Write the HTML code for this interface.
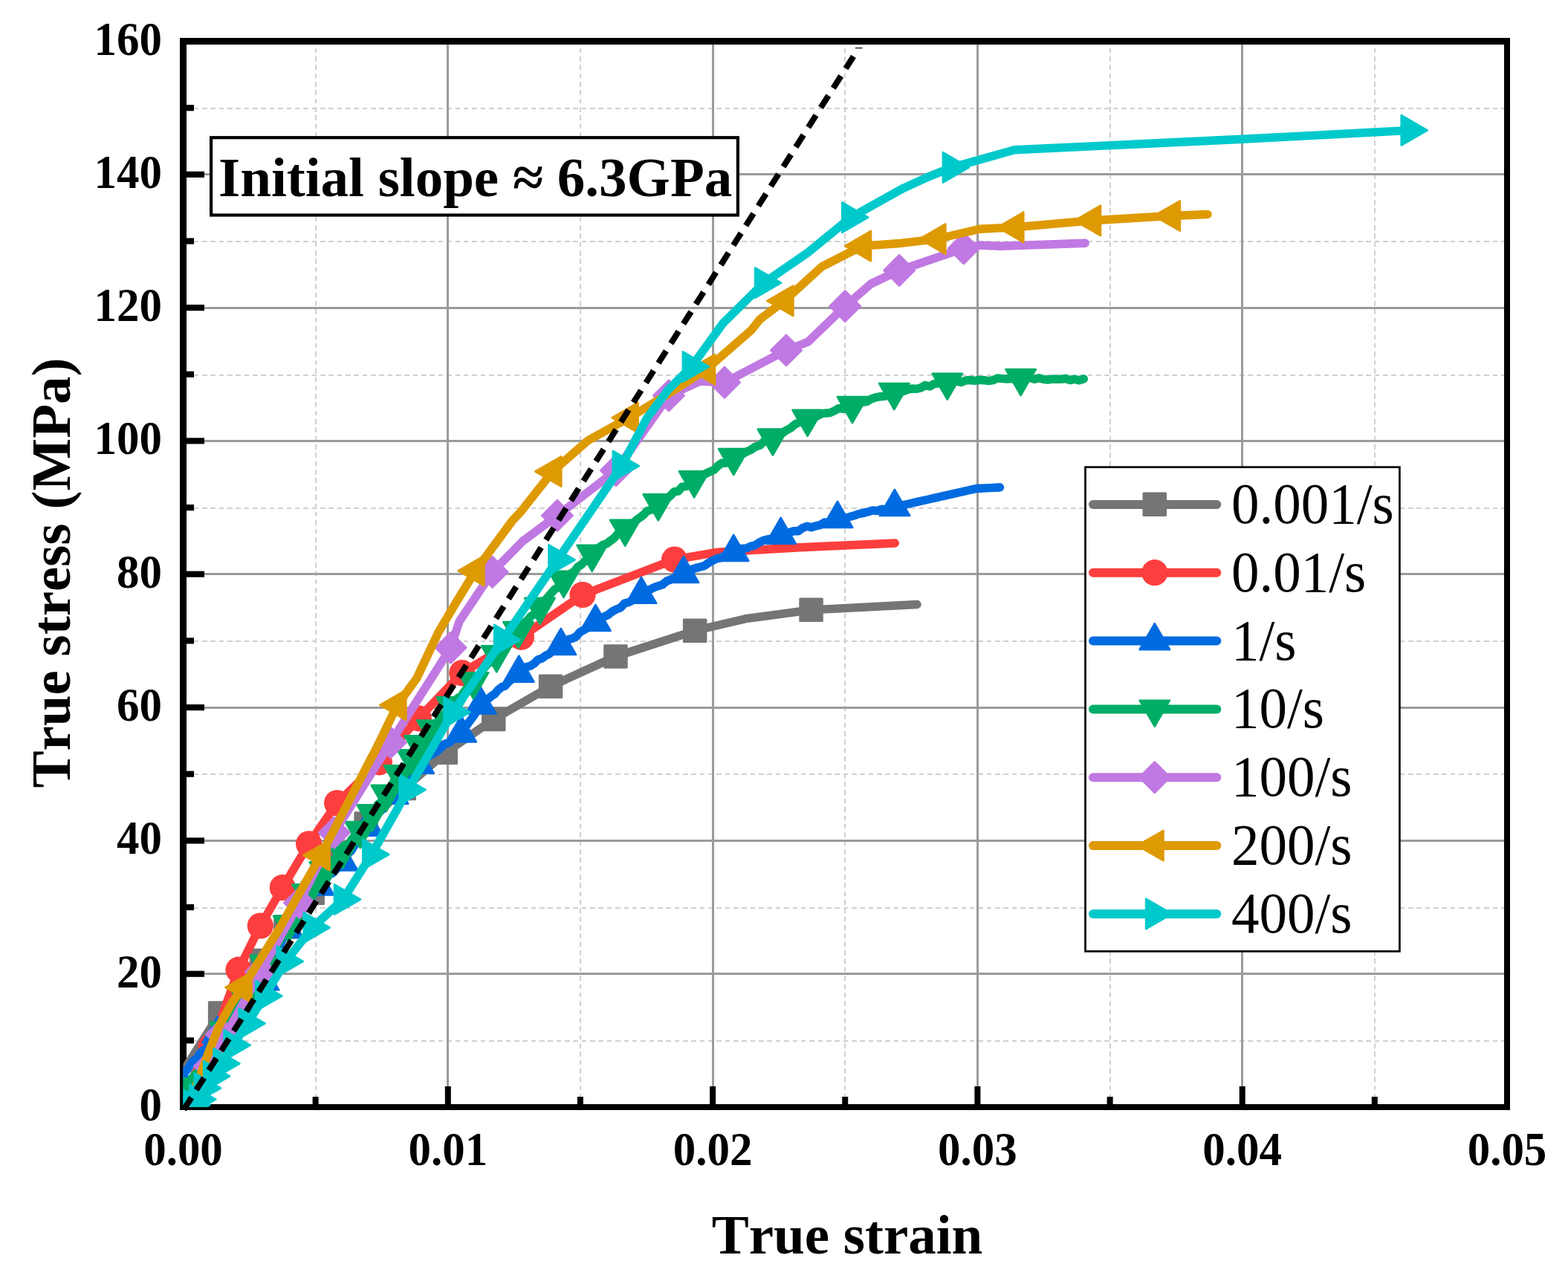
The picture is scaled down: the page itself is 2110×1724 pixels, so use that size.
<!DOCTYPE html>
<html lang="en"><head><meta charset="utf-8"><title>True stress vs true strain</title>
<style>
html,body{margin:0;padding:0;background:#fff;}
body{width:2110px;height:1724px;overflow:hidden;}
svg{display:block;}
text{font-family:"Liberation Serif","Times New Roman",serif;fill:#000;font-kerning:none;}
.b{font-weight:bold;}
.tk{font-weight:bold;font-size:61px;}
.ti{font-weight:bold;font-size:75px;}
.lg{font-size:75px;}
</style></head><body>
<svg width="2110" height="1724" viewBox="0 0 2110 1724">
<rect width="2110" height="1724" fill="#fff"/>
<defs><clipPath id="cp"><rect x="246.5" y="55.5" width="1781.5" height="1434.5"/></clipPath></defs>

<g id="grid" shape-rendering="crispEdges"><line x1="424.6" y1="1490.0" x2="424.6" y2="55.5" stroke="#d0d0d0" stroke-width="2" stroke-dasharray="6.6 4.75"/>
<line x1="780.9" y1="1490.0" x2="780.9" y2="55.5" stroke="#d0d0d0" stroke-width="2" stroke-dasharray="6.6 4.75"/>
<line x1="1137.2" y1="1490.0" x2="1137.2" y2="55.5" stroke="#d0d0d0" stroke-width="2" stroke-dasharray="6.6 4.75"/>
<line x1="1493.6" y1="1490.0" x2="1493.6" y2="55.5" stroke="#d0d0d0" stroke-width="2" stroke-dasharray="6.6 4.75"/>
<line x1="1849.8" y1="1490.0" x2="1849.8" y2="55.5" stroke="#d0d0d0" stroke-width="2" stroke-dasharray="6.6 4.75"/>
<line x1="249.3" y1="1401" x2="2028.0" y2="1401" stroke="#d0d0d0" stroke-width="2" stroke-dasharray="6.6 4.75"/>
<line x1="249.3" y1="1221.7" x2="2028.0" y2="1221.7" stroke="#d0d0d0" stroke-width="2" stroke-dasharray="6.6 4.75"/>
<line x1="249.3" y1="1042.4" x2="2028.0" y2="1042.4" stroke="#d0d0d0" stroke-width="2" stroke-dasharray="6.6 4.75"/>
<line x1="249.3" y1="863.1" x2="2028.0" y2="863.1" stroke="#d0d0d0" stroke-width="2" stroke-dasharray="6.6 4.75"/>
<line x1="249.3" y1="683.8" x2="2028.0" y2="683.8" stroke="#d0d0d0" stroke-width="2" stroke-dasharray="6.6 4.75"/>
<line x1="249.3" y1="504.5" x2="2028.0" y2="504.5" stroke="#d0d0d0" stroke-width="2" stroke-dasharray="6.6 4.75"/>
<line x1="249.3" y1="325.2" x2="2028.0" y2="325.2" stroke="#d0d0d0" stroke-width="2" stroke-dasharray="6.6 4.75"/>
<line x1="249.3" y1="145.9" x2="2028.0" y2="145.9" stroke="#d0d0d0" stroke-width="2" stroke-dasharray="6.6 4.75"/>
<line x1="602.8" y1="55.5" x2="602.8" y2="1490.0" stroke="#9b9b9b" stroke-width="2.9"/>
<line x1="959.1" y1="55.5" x2="959.1" y2="1490.0" stroke="#9b9b9b" stroke-width="2.9"/>
<line x1="1315.4" y1="55.5" x2="1315.4" y2="1490.0" stroke="#9b9b9b" stroke-width="2.9"/>
<line x1="1671.7" y1="55.5" x2="1671.7" y2="1490.0" stroke="#9b9b9b" stroke-width="2.9"/>
<line x1="246.5" y1="1310.7" x2="2028.0" y2="1310.7" stroke="#9b9b9b" stroke-width="2.9"/>
<line x1="246.5" y1="1131.4" x2="2028.0" y2="1131.4" stroke="#9b9b9b" stroke-width="2.9"/>
<line x1="246.5" y1="952.1" x2="2028.0" y2="952.1" stroke="#9b9b9b" stroke-width="2.9"/>
<line x1="246.5" y1="772.8" x2="2028.0" y2="772.8" stroke="#9b9b9b" stroke-width="2.9"/>
<line x1="246.5" y1="593.4" x2="2028.0" y2="593.4" stroke="#9b9b9b" stroke-width="2.9"/>
<line x1="246.5" y1="414.1" x2="2028.0" y2="414.1" stroke="#9b9b9b" stroke-width="2.9"/>
<line x1="246.5" y1="234.8" x2="2028.0" y2="234.8" stroke="#9b9b9b" stroke-width="2.9"/></g>
<g id="axes" fill="#000"><rect x="242" y="51" width="9" height="1443"/>
<rect x="242" y="51" width="1790" height="9"/>
<rect x="2024" y="51" width="8" height="1443"/>
<rect x="242" y="1486" width="1790" height="8"/>
<rect x="420.6" y="1476" width="8" height="11"/>
<rect x="598.8" y="1462" width="8" height="25"/>
<rect x="776.9" y="1476" width="8" height="11"/>
<rect x="955.1" y="1462" width="8" height="25"/>
<rect x="1133.2" y="1476" width="8" height="11"/>
<rect x="1311.4" y="1462" width="8" height="25"/>
<rect x="1489.6" y="1476" width="8" height="11"/>
<rect x="1667.7" y="1462" width="8" height="25"/>
<rect x="1845.8" y="1476" width="8" height="11"/>
<rect x="250" y="1396.2" width="11" height="8.2"/>
<rect x="250" y="1306.6" width="25" height="8.2"/>
<rect x="250" y="1216.9" width="11" height="8.2"/>
<rect x="250" y="1127.3" width="25" height="8.2"/>
<rect x="250" y="1037.6" width="11" height="8.2"/>
<rect x="250" y="948" width="25" height="8.2"/>
<rect x="250" y="858.3" width="11" height="8.2"/>
<rect x="250" y="768.6" width="25" height="8.2"/>
<rect x="250" y="679" width="11" height="8.2"/>
<rect x="250" y="589.3" width="25" height="8.2"/>
<rect x="250" y="499.7" width="11" height="8.2"/>
<rect x="250" y="410" width="25" height="8.2"/>
<rect x="250" y="320.4" width="11" height="8.2"/>
<rect x="250" y="230.7" width="25" height="8.2"/>
<rect x="250" y="141.1" width="11" height="8.2"/></g>
<g id="curves" clip-path="url(#cp)"><g id="s-gray"><polyline points="240,1452 296.2,1363.4 352,1292.7 384.5,1247.4 420.6,1201.8 456,1153 492.6,1108.5 543.8,1061.1 599.7,1012.7 664.3,968 700,947.4 741,923.7 828.5,883.5 935.1,848.8 1003.3,832.7 1091.6,820.9 1234,813.5" fill="none" stroke="#757575" stroke-width="11.4" stroke-linejoin="round" stroke-linecap="round"/>
<rect x="279.9" y="1347.2" width="32.5" height="32.5" rx="1.5" fill="#757575"/>
<rect x="335.8" y="1276.5" width="32.5" height="32.5" rx="1.5" fill="#757575"/>
<rect x="368.2" y="1231.2" width="32.5" height="32.5" rx="1.5" fill="#757575"/>
<rect x="404.4" y="1185.5" width="32.5" height="32.5" rx="1.5" fill="#757575"/>
<rect x="439.8" y="1136.8" width="32.5" height="32.5" rx="1.5" fill="#757575"/>
<rect x="476.4" y="1092.2" width="32.5" height="32.5" rx="1.5" fill="#757575"/>
<rect x="527.5" y="1044.8" width="32.5" height="32.5" rx="1.5" fill="#757575"/>
<rect x="583.5" y="996.5" width="32.5" height="32.5" rx="1.5" fill="#757575"/>
<rect x="648" y="951.8" width="32.5" height="32.5" rx="1.5" fill="#757575"/>
<rect x="724.8" y="907.5" width="32.5" height="32.5" rx="1.5" fill="#757575"/>
<rect x="812.2" y="867.2" width="32.5" height="32.5" rx="1.5" fill="#757575"/>
<rect x="918.9" y="832.5" width="32.5" height="32.5" rx="1.5" fill="#757575"/>
<rect x="1075.3" y="804.6" width="32.5" height="32.5" rx="1.5" fill="#757575"/>
</g>
<g id="s-red"><polyline points="262,1446 284,1408.5 321,1305.2 350.3,1246 380.3,1194.5 415.6,1135.8 453.6,1080.8 510.4,1025.8 563.3,966.8 621.8,905.7 701.4,857.3 784,800.5 907.6,753.1 965.4,743.2 1075.8,736.7 1204.3,731" fill="none" stroke="#FD3E3E" stroke-width="11.4" stroke-linejoin="round" stroke-linecap="round"/>
<circle cx="284" cy="1408.5" r="17.6" fill="#FD3E3E"/>
<circle cx="321" cy="1305.2" r="17.6" fill="#FD3E3E"/>
<circle cx="350.3" cy="1246" r="17.6" fill="#FD3E3E"/>
<circle cx="380.3" cy="1194.5" r="17.6" fill="#FD3E3E"/>
<circle cx="415.6" cy="1135.8" r="17.6" fill="#FD3E3E"/>
<circle cx="453.6" cy="1080.8" r="17.6" fill="#FD3E3E"/>
<circle cx="510.4" cy="1025.8" r="17.6" fill="#FD3E3E"/>
<circle cx="563.3" cy="966.8" r="17.6" fill="#FD3E3E"/>
<circle cx="621.8" cy="905.7" r="17.6" fill="#FD3E3E"/>
<circle cx="701.4" cy="857.3" r="17.6" fill="#FD3E3E"/>
<circle cx="784" cy="800.5" r="17.6" fill="#FD3E3E"/>
<circle cx="907.6" cy="753.1" r="17.6" fill="#FD3E3E"/>
</g>
<g id="s-blue"><polyline points="236,1468 238.5,1459.1 241,1452.2 245,1446.9 248.9,1443 252.9,1438.5 256.9,1431.9 260.8,1427.1 264.8,1425.2 268.8,1418.6 272.8,1413.9 276.7,1411.8 280.7,1405.4 284.7,1402 288.6,1396.1 292.6,1392 296.3,1385.1 300,1381.6 303.6,1377.2 307.3,1370.8 311,1366.4 314.6,1361 318.3,1353.7 322,1350.9 326.7,1346.1 331.5,1340.9 336.2,1335.8 340.9,1334.4 345.6,1328.9 350.4,1325.5 355.1,1321.9 357.8,1315.4 360.5,1310.3 363.2,1302.6 365.8,1298.1 368.5,1291 371.2,1286.8 373.9,1280.7 376.6,1272.2 379.2,1266.4 381.9,1260.8 384.6,1257.5 387.3,1249.8 391.1,1245.2 394.9,1238.9 398.6,1234.4 402.4,1228.8 406.2,1223.5 410,1219.1 413.8,1213.9 417.6,1209.8 421.3,1203.8 425.1,1199.5 428.9,1194 433.5,1189.7 438.1,1183.9 442.7,1177.5 447.3,1175.1 451.9,1170.7 456.5,1165.8 461.1,1159.9 464.9,1155.2 468.6,1148.3 472.4,1145.3 476.2,1139.2 479.9,1133 483.7,1127.1 487.5,1124.6 491.2,1119.9 495,1111.6 498.8,1109.2 502.6,1103.1 506.3,1097.5 510.1,1093.2 513.9,1090 517.7,1085.6 521.4,1078 525.2,1075.2 529,1068.5 533.3,1065.6 537.6,1059.2 541.9,1055.9 546.2,1051.1 550.6,1044.3 554.9,1040.9 559.2,1033.4 563.5,1027.5 568.7,1025.4 573.9,1019.7 579.1,1016.4 584.3,1013.3 589.5,1010.1 594.6,1004.8 599.8,1000.6 605,999.5 610.2,993.8 615.4,992.2 620.6,988.1 624.4,981 628.2,975.8 632,970.6 635.8,965.6 639.6,960 643.4,954.4 647.2,949.2 651.8,946.4 656.5,941 661.1,936.9 665.8,933.9 670.4,928.4 675.1,924.7 679.7,923.1 684.4,917.7 689,913.9 693.7,908.1 698.3,905.6 703.4,902.8 708.6,897.6 713.7,896.3 718.8,893 724,887.7 729.1,886.3 734.3,882.4 739.4,879.8 744.5,875.4 749.7,873.2 754.8,870 760,864 765.2,860.6 770.3,859.2 775.5,856.6 780.7,850.6 785.9,847.8 791,844.7 796.2,840.2 801.4,836.8 807,833.3 812.6,830.1 818.2,827.5 823.8,823.1 829.4,820 835,817.9 840.6,812 846.2,810.5 851.8,807.7 857.4,802.8 863,799.2 868.7,798.3 874.4,793.6 880.1,790.7 885.8,788.7 891.5,786.8 897.1,782 902.8,780 908.5,777.2 914.2,776.1 919.9,772 925.5,771 931.1,766.2 936.7,764.4 942.3,763 947.9,761.4 953.5,757.5 959.2,754.3 964.8,751.6 970.4,750.6 976,747 981.6,746.7 987.2,744.4 993,740 998.7,738.2 1004.5,737.9 1010.3,735.3 1016.1,733.7 1021.8,730.1 1027.6,727.2 1033.4,725.7 1039.2,725.3 1044.9,721.4 1050.7,719.6 1056.6,718.1 1062.4,716.5 1068.3,714.7 1074.2,714.8 1080,710.5 1085.9,708.3 1091.8,709.8 1097.7,707.9 1103.5,706.6 1109.4,703 1115.3,703.1 1121.1,701.3 1127,697.3 1132.9,697.8 1138.8,696.9 1144.7,695.1 1150.7,693.4 1156.6,691.4 1162.5,690.3 1168.4,688.7 1174.3,686.9 1180.2,687.5 1186.2,685.2 1192.1,685.8 1198,682 1203.9,683.7 1210,680.9 1216.1,679.5 1222.2,678.2 1228.4,676.8 1234.5,675.4 1240.6,674 1246.7,672.7 1252.8,671.3 1259,669.9 1265.1,668.5 1271.2,667.1 1277.3,665.8 1283.4,664.4 1289.5,663 1295.7,661.6 1301.8,660.3 1307.9,658.9 1314,657.5 1320.3,657.2 1326.6,656.9 1332.9,656.6 1339.2,656.3 1345.5,656" fill="none" stroke="#006BE0" stroke-width="11.4" stroke-linejoin="round" stroke-linecap="round"/>
<polygon points="241,1428.7 261.2,1463.7 220.8,1463.7" fill="#006BE0" stroke="#006BE0" stroke-width="2.6" stroke-linejoin="round"/>
<polygon points="292.6,1368.2 312.8,1403.2 272.4,1403.2" fill="#006BE0" stroke="#006BE0" stroke-width="2.6" stroke-linejoin="round"/>
<polygon points="322,1326.7 342.2,1361.7 301.8,1361.7" fill="#006BE0" stroke="#006BE0" stroke-width="2.6" stroke-linejoin="round"/>
<polygon points="355.1,1297.3 375.3,1332.3 334.9,1332.3" fill="#006BE0" stroke="#006BE0" stroke-width="2.6" stroke-linejoin="round"/>
<polygon points="387.3,1226.7 407.5,1261.7 367.1,1261.7" fill="#006BE0" stroke="#006BE0" stroke-width="2.6" stroke-linejoin="round"/>
<polygon points="428.9,1169.5 449.1,1204.5 408.7,1204.5" fill="#006BE0" stroke="#006BE0" stroke-width="2.6" stroke-linejoin="round"/>
<polygon points="461.1,1136.4 481.3,1171.4 440.9,1171.4" fill="#006BE0" stroke="#006BE0" stroke-width="2.6" stroke-linejoin="round"/>
<polygon points="495,1089.7 515.2,1124.7 474.8,1124.7" fill="#006BE0" stroke="#006BE0" stroke-width="2.6" stroke-linejoin="round"/>
<polygon points="529,1046.7 549.2,1081.7 508.8,1081.7" fill="#006BE0" stroke="#006BE0" stroke-width="2.6" stroke-linejoin="round"/>
<polygon points="563.5,1005.6 583.7,1040.6 543.3,1040.6" fill="#006BE0" stroke="#006BE0" stroke-width="2.6" stroke-linejoin="round"/>
<polygon points="620.6,963.5 640.8,998.5 600.4,998.5" fill="#006BE0" stroke="#006BE0" stroke-width="2.6" stroke-linejoin="round"/>
<polygon points="647.2,925.5 667.4,960.5 627,960.5" fill="#006BE0" stroke="#006BE0" stroke-width="2.6" stroke-linejoin="round"/>
<polygon points="698.3,882.6 718.5,917.6 678.1,917.6" fill="#006BE0" stroke="#006BE0" stroke-width="2.6" stroke-linejoin="round"/>
<polygon points="754.8,845.9 775,880.9 734.6,880.9" fill="#006BE0" stroke="#006BE0" stroke-width="2.6" stroke-linejoin="round"/>
<polygon points="801.4,814 821.6,849 781.2,849" fill="#006BE0" stroke="#006BE0" stroke-width="2.6" stroke-linejoin="round"/>
<polygon points="863,776.8 883.2,811.8 842.8,811.8" fill="#006BE0" stroke="#006BE0" stroke-width="2.6" stroke-linejoin="round"/>
<polygon points="919.9,748.9 940.1,783.9 899.7,783.9" fill="#006BE0" stroke="#006BE0" stroke-width="2.6" stroke-linejoin="round"/>
<polygon points="987.2,719.9 1007.4,754.9 967,754.9" fill="#006BE0" stroke="#006BE0" stroke-width="2.6" stroke-linejoin="round"/>
<polygon points="1050.7,696.8 1070.9,731.8 1030.5,731.8" fill="#006BE0" stroke="#006BE0" stroke-width="2.6" stroke-linejoin="round"/>
<polygon points="1127,674.9 1147.2,709.9 1106.8,709.9" fill="#006BE0" stroke="#006BE0" stroke-width="2.6" stroke-linejoin="round"/>
<polygon points="1203.9,659 1224.1,694 1183.7,694" fill="#006BE0" stroke="#006BE0" stroke-width="2.6" stroke-linejoin="round"/>
</g>
<g id="s-green"><polyline points="240,1478 243.7,1472.1 247.3,1466.7 251,1462.6 254.7,1456.5 258.4,1451 262.1,1446.8 265.9,1443.3 269.6,1437.6 273.3,1432.2 277,1425.1 280.7,1420.7 284.4,1414.3 288.1,1408.5 291.9,1402.8 295.6,1397.7 299.3,1394.6 303,1388.8 306.4,1383 309.8,1377.3 313.1,1369.5 316.5,1364.2 319.9,1359.6 323.2,1354.2 326.6,1348.9 330,1343.3 333.4,1335 336.8,1331.3 340.1,1325.9 343.5,1319.8 346.9,1313.2 350.2,1308.6 353.6,1301.8 357,1299.1 360.1,1293.5 363.3,1287.1 366.4,1281 369.5,1277.8 372.6,1271.3 375.8,1267 378.9,1261.6 382,1255.1 385.2,1249.5 388.3,1244.8 391.5,1239 394.6,1232.7 397.8,1227.9 401,1224.4 404.2,1216.4 407.4,1211.2 410.5,1207.8 413.7,1201.4 417.6,1197.2 421.5,1192 425.4,1186.5 429.2,1183.7 433.1,1176 437,1171.7 441,1166.5 445,1163.5 449,1157.7 453,1153.5 457,1150.3 461,1144.4 465,1140.7 468.9,1137.3 472.9,1130 476.9,1125.4 480.8,1121.4 484.8,1118.7 488.8,1112.5 492.9,1105.5 496.9,1100.1 500.9,1093.9 504.7,1089.6 508.5,1082.8 512.3,1079.8 516.1,1075.1 519.9,1070 523.3,1064 526.7,1059.4 530.2,1050.9 533.6,1046.5 537,1043.5 541.5,1037.6 546,1031.2 550.5,1027.8 555,1021.5 558.2,1015.8 561.3,1007.7 564.5,1001.1 568.8,996.7 573,990.5 577.2,986.1 581.5,982.9 585.9,975.5 590.3,969.2 594.8,964.1 599.2,959.3 603.6,956.2 608,949.5 612.1,944.6 616.3,939.2 620.4,937.5 624.6,930.9 628.7,925.4 632.9,920.2 637,915.5 641.5,910.7 645.9,907.3 650.4,900.4 654.8,894.9 659.3,891.3 663.7,885.3 668.2,882.7 672.4,875.1 676.6,871.9 680.8,868.1 685,862.3 689.2,859.7 693.4,853.3 697.6,847.9 701.7,843.9 705.9,838 710,834.7 714.1,829.5 718.2,827.1 722.4,822.3 726.5,816.6 730.5,810.5 734.5,806.8 738.5,802.2 742.5,797.6 746.5,793.2 750.5,790.9 754.5,783.9 758.5,779.1 763.3,777.7 768,772 772.8,769.1 777.6,762.7 782.4,760 787.2,754.8 791.9,750.9 796.7,746.3 801.6,741.7 806.6,736.5 811.5,733.2 816.5,731.6 821.4,727.9 826.4,724.2 831.3,718.4 836.3,715.7 841.2,712.4 846.2,708.1 851.1,704.8 856.1,700 861,696.6 866,692.9 870.9,687.7 875.9,686.1 880.8,682.4 885.8,675.6 891.2,675.2 896.5,671.7 901.9,667.3 907.3,661.7 912.6,661.2 918,655.1 923.4,654.6 928.7,650.1 934.1,644.6 939.4,641.9 944.7,640.5 950,637.2 955.3,634.8 960.7,632.4 966,627 971.3,623.2 976.6,623.3 981.9,617.2 987.2,617.1 993.1,611.5 998.9,610.9 1004.8,607.9 1010.6,605.3 1016.5,601.2 1022.3,599.4 1028.2,594.1 1034,592.7 1039.9,588.6 1045.8,587.3 1051.6,583.7 1057.5,579.5 1063.3,576.5 1069.2,571.6 1075,568.4 1080.9,567.1 1086.7,563.6 1092.7,563.1 1098.8,560.4 1104.8,557 1110.8,556 1116.8,555.6 1122.9,552.9 1128.9,549.4 1134.9,550.4 1141,548.6 1147,544.3 1153.3,543.8 1159.5,541.3 1165.8,540.7 1172,537.1 1178.3,534.8 1184.5,533.7 1190.8,533.3 1197,528.3 1203.3,526.4 1209.3,527 1215.2,526.8 1221.2,524.4 1227.1,523 1233.1,523.4 1239,522 1245,518.5 1251,520.1 1256.9,516.7 1262.9,515.9 1268.8,516.7 1274.8,514.1 1281,515.1 1287.1,512.6 1293.3,514.6 1299.5,511.9 1305.7,511.5 1311.8,512.3 1318,511.4 1324.2,511.7 1330.4,512.6 1336.5,511.6 1342.7,508.9 1348.9,509.6 1355.1,510 1361.2,509.5 1367.4,509.9 1373.6,508.7 1379.6,507.5 1385.7,508.2 1391.8,510.4 1397.8,508.8 1403.8,510.3 1409.9,511.2 1415.9,510.1 1422,510.4 1428,510.3 1434.1,509.5 1440.1,511.6 1446.2,510.2 1452.2,511.9 1458.3,509.9" fill="none" stroke="#00AD66" stroke-width="11.4" stroke-linejoin="round" stroke-linecap="round"/>
<polygon points="251,1486.3 271.2,1451.3 230.8,1451.3" fill="#00AD66" stroke="#00AD66" stroke-width="2.6" stroke-linejoin="round"/>
<polygon points="303,1411 323.2,1376 282.8,1376" fill="#00AD66" stroke="#00AD66" stroke-width="2.6" stroke-linejoin="round"/>
<polygon points="330,1365.3 350.2,1330.3 309.8,1330.3" fill="#00AD66" stroke="#00AD66" stroke-width="2.6" stroke-linejoin="round"/>
<polygon points="357,1320.9 377.2,1285.9 336.8,1285.9" fill="#00AD66" stroke="#00AD66" stroke-width="2.6" stroke-linejoin="round"/>
<polygon points="388.3,1267.8 408.5,1232.8 368.1,1232.8" fill="#00AD66" stroke="#00AD66" stroke-width="2.6" stroke-linejoin="round"/>
<polygon points="413.7,1225.4 433.9,1190.4 393.5,1190.4" fill="#00AD66" stroke="#00AD66" stroke-width="2.6" stroke-linejoin="round"/>
<polygon points="437,1195.3 457.2,1160.3 416.8,1160.3" fill="#00AD66" stroke="#00AD66" stroke-width="2.6" stroke-linejoin="round"/>
<polygon points="461,1168.3 481.2,1133.3 440.8,1133.3" fill="#00AD66" stroke="#00AD66" stroke-width="2.6" stroke-linejoin="round"/>
<polygon points="484.8,1141.1 505,1106.1 464.6,1106.1" fill="#00AD66" stroke="#00AD66" stroke-width="2.6" stroke-linejoin="round"/>
<polygon points="500.9,1118.3 521.1,1083.3 480.7,1083.3" fill="#00AD66" stroke="#00AD66" stroke-width="2.6" stroke-linejoin="round"/>
<polygon points="519.9,1091.8 540.1,1056.8 499.7,1056.8" fill="#00AD66" stroke="#00AD66" stroke-width="2.6" stroke-linejoin="round"/>
<polygon points="537,1065.2 557.2,1030.2 516.8,1030.2" fill="#00AD66" stroke="#00AD66" stroke-width="2.6" stroke-linejoin="round"/>
<polygon points="555,1044.4 575.2,1009.4 534.8,1009.4" fill="#00AD66" stroke="#00AD66" stroke-width="2.6" stroke-linejoin="round"/>
<polygon points="564.5,1025.4 584.7,990.4 544.3,990.4" fill="#00AD66" stroke="#00AD66" stroke-width="2.6" stroke-linejoin="round"/>
<polygon points="581.5,1004.6 601.7,969.6 561.3,969.6" fill="#00AD66" stroke="#00AD66" stroke-width="2.6" stroke-linejoin="round"/>
<polygon points="608,973.3 628.2,938.3 587.8,938.3" fill="#00AD66" stroke="#00AD66" stroke-width="2.6" stroke-linejoin="round"/>
<polygon points="637,940.3 657.2,905.3 616.8,905.3" fill="#00AD66" stroke="#00AD66" stroke-width="2.6" stroke-linejoin="round"/>
<polygon points="668.2,904.3 688.4,869.3 648,869.3" fill="#00AD66" stroke="#00AD66" stroke-width="2.6" stroke-linejoin="round"/>
<polygon points="697.6,872.1 717.8,837.1 677.4,837.1" fill="#00AD66" stroke="#00AD66" stroke-width="2.6" stroke-linejoin="round"/>
<polygon points="726.5,839.9 746.7,804.9 706.3,804.9" fill="#00AD66" stroke="#00AD66" stroke-width="2.6" stroke-linejoin="round"/>
<polygon points="758.5,803.9 778.7,768.9 738.3,768.9" fill="#00AD66" stroke="#00AD66" stroke-width="2.6" stroke-linejoin="round"/>
<polygon points="796.7,768.8 816.9,733.8 776.5,733.8" fill="#00AD66" stroke="#00AD66" stroke-width="2.6" stroke-linejoin="round"/>
<polygon points="841.2,734.7 861.4,699.7 821,699.7" fill="#00AD66" stroke="#00AD66" stroke-width="2.6" stroke-linejoin="round"/>
<polygon points="885.8,700.3 906,665.3 865.6,665.3" fill="#00AD66" stroke="#00AD66" stroke-width="2.6" stroke-linejoin="round"/>
<polygon points="934.1,669.4 954.3,634.4 913.9,634.4" fill="#00AD66" stroke="#00AD66" stroke-width="2.6" stroke-linejoin="round"/>
<polygon points="987.2,639.1 1007.4,604.1 967,604.1" fill="#00AD66" stroke="#00AD66" stroke-width="2.6" stroke-linejoin="round"/>
<polygon points="1039.9,612.5 1060.1,577.5 1019.7,577.5" fill="#00AD66" stroke="#00AD66" stroke-width="2.6" stroke-linejoin="round"/>
<polygon points="1086.7,586.9 1106.9,551.9 1066.5,551.9" fill="#00AD66" stroke="#00AD66" stroke-width="2.6" stroke-linejoin="round"/>
<polygon points="1147,569 1167.2,534 1126.8,534" fill="#00AD66" stroke="#00AD66" stroke-width="2.6" stroke-linejoin="round"/>
<polygon points="1203.3,551 1223.5,516 1183.1,516" fill="#00AD66" stroke="#00AD66" stroke-width="2.6" stroke-linejoin="round"/>
<polygon points="1274.8,537.7 1295,502.7 1254.6,502.7" fill="#00AD66" stroke="#00AD66" stroke-width="2.6" stroke-linejoin="round"/>
<polygon points="1373.6,532.1 1393.8,497.1 1353.4,497.1" fill="#00AD66" stroke="#00AD66" stroke-width="2.6" stroke-linejoin="round"/>
</g>
<g id="s-purple"><polyline points="274,1448 282,1435 297,1405 312,1378 345,1318 390,1238 412,1196 449.8,1120.6 525.6,999.3 606.6,871.6 618,836.5 662.6,769.8 703.3,728.4 749.9,693.9 828.9,633.2 900,532.4 942,513 975,514.7 1058,471.5 1087,460.3 1137.2,412.2 1172,382 1210.1,363.8 1296.8,334.4 1318,330 1346,331.3 1460.2,327.2" fill="none" stroke="#C079E2" stroke-width="11.4" stroke-linejoin="round" stroke-linecap="round"/>
<polygon points="282,1414.3 302.7,1435 282,1455.7 261.3,1435" fill="#C079E2" stroke="#C079E2" stroke-width="2.6" stroke-linejoin="round"/>
<polygon points="298,1371.3 318.7,1392 298,1412.7 277.3,1392" fill="#C079E2" stroke="#C079E2" stroke-width="2.6" stroke-linejoin="round"/>
<polygon points="351,1287.3 371.7,1308 351,1328.7 330.3,1308" fill="#C079E2" stroke="#C079E2" stroke-width="2.6" stroke-linejoin="round"/>
<polygon points="403,1194.3 423.7,1215 403,1235.7 382.3,1215" fill="#C079E2" stroke="#C079E2" stroke-width="2.6" stroke-linejoin="round"/>
<polygon points="449.8,1099.9 470.5,1120.6 449.8,1141.3 429.1,1120.6" fill="#C079E2" stroke="#C079E2" stroke-width="2.6" stroke-linejoin="round"/>
<polygon points="525.6,978.6 546.3,999.3 525.6,1020 504.9,999.3" fill="#C079E2" stroke="#C079E2" stroke-width="2.6" stroke-linejoin="round"/>
<polygon points="606.6,850.9 627.3,871.6 606.6,892.3 585.9,871.6" fill="#C079E2" stroke="#C079E2" stroke-width="2.6" stroke-linejoin="round"/>
<polygon points="662.6,749.1 683.3,769.8 662.6,790.5 641.9,769.8" fill="#C079E2" stroke="#C079E2" stroke-width="2.6" stroke-linejoin="round"/>
<polygon points="749.9,673.2 770.6,693.9 749.9,714.6 729.2,693.9" fill="#C079E2" stroke="#C079E2" stroke-width="2.6" stroke-linejoin="round"/>
<polygon points="828.9,612.5 849.6,633.2 828.9,653.9 808.2,633.2" fill="#C079E2" stroke="#C079E2" stroke-width="2.6" stroke-linejoin="round"/>
<polygon points="900,511.7 920.7,532.4 900,553.1 879.3,532.4" fill="#C079E2" stroke="#C079E2" stroke-width="2.6" stroke-linejoin="round"/>
<polygon points="975,494 995.7,514.7 975,535.4 954.3,514.7" fill="#C079E2" stroke="#C079E2" stroke-width="2.6" stroke-linejoin="round"/>
<polygon points="1058,450.8 1078.7,471.5 1058,492.2 1037.3,471.5" fill="#C079E2" stroke="#C079E2" stroke-width="2.6" stroke-linejoin="round"/>
<polygon points="1137.2,391.5 1157.9,412.2 1137.2,432.9 1116.5,412.2" fill="#C079E2" stroke="#C079E2" stroke-width="2.6" stroke-linejoin="round"/>
<polygon points="1210.1,343.1 1230.8,363.8 1210.1,384.5 1189.4,363.8" fill="#C079E2" stroke="#C079E2" stroke-width="2.6" stroke-linejoin="round"/>
<polygon points="1296.8,313.7 1317.5,334.4 1296.8,355.1 1276.1,334.4" fill="#C079E2" stroke="#C079E2" stroke-width="2.6" stroke-linejoin="round"/>
</g>
<g id="s-orange"><polyline points="264,1461 267,1454.3 280.7,1416.4 295.9,1378.4 312,1350 326.7,1328.9 375.8,1250 431.8,1151 510,1000 534.6,948.9 561.1,912.3 589.6,851.7 614.2,810 639.8,768.2 690,700 700,689.7 743.6,634.5 791,593 846.9,562.1 889.6,536.2 950.3,497.3 1011.1,444.2 1022.3,430 1055.7,404.8 1105.9,358.9 1160.3,331.1 1213.7,327.2 1260.6,321.7 1318,308.2 1365.6,305.9 1469.3,296.8 1576.2,290.5 1625,288.5" fill="none" stroke="#DE9A03" stroke-width="11.4" stroke-linejoin="round" stroke-linecap="round"/>
<polygon points="303.4,1328.9 338.4,1308.7 338.4,1349.1" fill="#DE9A03" stroke="#DE9A03" stroke-width="2.6" stroke-linejoin="round"/>
<polygon points="408.5,1151 443.5,1130.8 443.5,1171.2" fill="#DE9A03" stroke="#DE9A03" stroke-width="2.6" stroke-linejoin="round"/>
<polygon points="511.3,948.9 546.3,928.7 546.3,969.1" fill="#DE9A03" stroke="#DE9A03" stroke-width="2.6" stroke-linejoin="round"/>
<polygon points="616.5,768.2 651.5,748 651.5,788.4" fill="#DE9A03" stroke="#DE9A03" stroke-width="2.6" stroke-linejoin="round"/>
<polygon points="720.3,634.5 755.3,614.3 755.3,654.7" fill="#DE9A03" stroke="#DE9A03" stroke-width="2.6" stroke-linejoin="round"/>
<polygon points="823.6,562.1 858.6,541.9 858.6,582.3" fill="#DE9A03" stroke="#DE9A03" stroke-width="2.6" stroke-linejoin="round"/>
<polygon points="927,497.3 962,477.1 962,517.5" fill="#DE9A03" stroke="#DE9A03" stroke-width="2.6" stroke-linejoin="round"/>
<polygon points="1032.4,404.8 1067.4,384.6 1067.4,425" fill="#DE9A03" stroke="#DE9A03" stroke-width="2.6" stroke-linejoin="round"/>
<polygon points="1137,331.1 1172,310.9 1172,351.3" fill="#DE9A03" stroke="#DE9A03" stroke-width="2.6" stroke-linejoin="round"/>
<polygon points="1237.3,321.7 1272.3,301.5 1272.3,341.9" fill="#DE9A03" stroke="#DE9A03" stroke-width="2.6" stroke-linejoin="round"/>
<polygon points="1342.3,305.9 1377.3,285.7 1377.3,326.1" fill="#DE9A03" stroke="#DE9A03" stroke-width="2.6" stroke-linejoin="round"/>
<polygon points="1446,296.8 1481,276.6 1481,317" fill="#DE9A03" stroke="#DE9A03" stroke-width="2.6" stroke-linejoin="round"/>
<polygon points="1552.9,290.5 1587.9,270.3 1587.9,310.7" fill="#DE9A03" stroke="#DE9A03" stroke-width="2.6" stroke-linejoin="round"/>
</g>
<g id="s-cyan"><polyline points="240,1505 252,1494 259,1487 267,1479.6 273.6,1464.5 285.9,1448.3 299.2,1431.3 313.4,1406.6 333.3,1377.3 356.1,1340.3 384.5,1293.8 420.5,1248.3 461.7,1210.5 500,1150 549.3,1062.8 609.2,958.7 676.8,861.1 750.2,753.5 836.5,627.2 870.6,562.7 899,524.8 930.6,493.5 973.2,434.7 1027.8,380.7 1087,340 1144.9,292.7 1213.7,254.2 1250,237.6 1280.6,225.4 1365,201.7 1500,195.4 1671.6,187.3 1897.4,175.4" fill="none" stroke="#00C9CC" stroke-width="11.4" stroke-linejoin="round" stroke-linecap="round"/>
<polygon points="275.3,1494 240.3,1473.8 240.3,1514.2" fill="#00C9CC" stroke="#00C9CC" stroke-width="2.6" stroke-linejoin="round"/>
<polygon points="282.3,1487 247.3,1466.8 247.3,1507.2" fill="#00C9CC" stroke="#00C9CC" stroke-width="2.6" stroke-linejoin="round"/>
<polygon points="290.3,1479.6 255.3,1459.4 255.3,1499.8" fill="#00C9CC" stroke="#00C9CC" stroke-width="2.6" stroke-linejoin="round"/>
<polygon points="296.9,1464.5 261.9,1444.3 261.9,1484.7" fill="#00C9CC" stroke="#00C9CC" stroke-width="2.6" stroke-linejoin="round"/>
<polygon points="309.2,1448.3 274.2,1428.1 274.2,1468.5" fill="#00C9CC" stroke="#00C9CC" stroke-width="2.6" stroke-linejoin="round"/>
<polygon points="322.5,1431.3 287.5,1411.1 287.5,1451.5" fill="#00C9CC" stroke="#00C9CC" stroke-width="2.6" stroke-linejoin="round"/>
<polygon points="336.7,1406.6 301.7,1386.4 301.7,1426.8" fill="#00C9CC" stroke="#00C9CC" stroke-width="2.6" stroke-linejoin="round"/>
<polygon points="356.6,1377.3 321.6,1357.1 321.6,1397.5" fill="#00C9CC" stroke="#00C9CC" stroke-width="2.6" stroke-linejoin="round"/>
<polygon points="379.4,1340.3 344.4,1320.1 344.4,1360.5" fill="#00C9CC" stroke="#00C9CC" stroke-width="2.6" stroke-linejoin="round"/>
<polygon points="407.8,1293.8 372.8,1273.6 372.8,1314" fill="#00C9CC" stroke="#00C9CC" stroke-width="2.6" stroke-linejoin="round"/>
<polygon points="443.8,1248.3 408.8,1228.1 408.8,1268.5" fill="#00C9CC" stroke="#00C9CC" stroke-width="2.6" stroke-linejoin="round"/>
<polygon points="485,1210.5 450,1190.3 450,1230.7" fill="#00C9CC" stroke="#00C9CC" stroke-width="2.6" stroke-linejoin="round"/>
<polygon points="523.3,1150 488.3,1129.8 488.3,1170.2" fill="#00C9CC" stroke="#00C9CC" stroke-width="2.6" stroke-linejoin="round"/>
<polygon points="572.6,1062.8 537.6,1042.6 537.6,1083" fill="#00C9CC" stroke="#00C9CC" stroke-width="2.6" stroke-linejoin="round"/>
<polygon points="632.5,958.7 597.5,938.5 597.5,978.9" fill="#00C9CC" stroke="#00C9CC" stroke-width="2.6" stroke-linejoin="round"/>
<polygon points="700.1,861.1 665.1,840.9 665.1,881.3" fill="#00C9CC" stroke="#00C9CC" stroke-width="2.6" stroke-linejoin="round"/>
<polygon points="773.5,753.5 738.5,733.3 738.5,773.7" fill="#00C9CC" stroke="#00C9CC" stroke-width="2.6" stroke-linejoin="round"/>
<polygon points="859.8,627.2 824.8,607 824.8,647.4" fill="#00C9CC" stroke="#00C9CC" stroke-width="2.6" stroke-linejoin="round"/>
<polygon points="953.9,493.5 918.9,473.3 918.9,513.7" fill="#00C9CC" stroke="#00C9CC" stroke-width="2.6" stroke-linejoin="round"/>
<polygon points="1051.1,380.7 1016.1,360.5 1016.1,400.9" fill="#00C9CC" stroke="#00C9CC" stroke-width="2.6" stroke-linejoin="round"/>
<polygon points="1168.2,292.7 1133.2,272.5 1133.2,312.9" fill="#00C9CC" stroke="#00C9CC" stroke-width="2.6" stroke-linejoin="round"/>
<polygon points="1303.9,225.4 1268.9,205.2 1268.9,245.6" fill="#00C9CC" stroke="#00C9CC" stroke-width="2.6" stroke-linejoin="round"/>
<polygon points="1920.7,175.4 1885.7,155.2 1885.7,195.6" fill="#00C9CC" stroke="#00C9CC" stroke-width="2.6" stroke-linejoin="round"/>
</g>
<rect x="1151" y="64" width="9.5" height="1.2" fill="#000"/></g>
<line id="slope" x1="247.3" y1="1493.4" x2="1148.6" y2="75.6" stroke="#000" stroke-width="8" stroke-dasharray="19.3 12.03"/>
<g id="labels"><text class="tk" transform="translate(246.5,1567.7) scale(1,1.045)" text-anchor="middle">0.00</text>
<text class="tk" transform="translate(602.8,1567.7) scale(1,1.045)" text-anchor="middle">0.01</text>
<text class="tk" transform="translate(959.1,1567.7) scale(1,1.045)" text-anchor="middle">0.02</text>
<text class="tk" transform="translate(1315.4,1567.7) scale(1,1.045)" text-anchor="middle">0.03</text>
<text class="tk" transform="translate(1671.7,1567.7) scale(1,1.045)" text-anchor="middle">0.04</text>
<text class="tk" transform="translate(2028,1567.7) scale(1,1.045)" text-anchor="middle">0.05</text>
<text class="tk" transform="translate(218,1508) scale(1,1.045)" text-anchor="end">0</text>
<text class="tk" transform="translate(218,1328.7) scale(1,1.045)" text-anchor="end">20</text>
<text class="tk" transform="translate(218,1149.4) scale(1,1.045)" text-anchor="end">40</text>
<text class="tk" transform="translate(218,970.1) scale(1,1.045)" text-anchor="end">60</text>
<text class="tk" transform="translate(218,790.8) scale(1,1.045)" text-anchor="end">80</text>
<text class="tk" transform="translate(218,611.4) scale(1,1.045)" text-anchor="end">100</text>
<text class="tk" transform="translate(218,432.1) scale(1,1.045)" text-anchor="end">120</text>
<text class="tk" transform="translate(218,252.8) scale(1,1.045)" text-anchor="end">140</text>
<text class="tk" transform="translate(218,73.5) scale(1,1.045)" text-anchor="end">160</text>
<text class="ti" x="1140" y="1687" text-anchor="middle">True strain</text>
<text class="ti" transform="translate(94,771) rotate(-90)" text-anchor="middle">True stress (MPa)</text></g>
<g id="annot"><rect x="284.1" y="185.2" width="708.8" height="104.3" fill="#fff" stroke="#000" stroke-width="4.2"/>
<text class="ti" x="294" y="264">Initial slope ≈ 6.3GPa</text></g>
<g id="legend"><rect x="1460.5" y="628.7" width="422.9" height="651.6" fill="#fff" stroke="#000" stroke-width="2.7"/>
<line x1="1471" y1="678.9" x2="1637.3" y2="678.9" stroke="#757575" stroke-width="12" stroke-linecap="round"/>
<rect x="1537.5" y="662.6" width="32.5" height="32.5" rx="1.5" fill="#757575"/>
<text class="lg" transform="translate(1657,703.9) scale(1,1.03)">0.001/s</text>
<line x1="1471" y1="770.7" x2="1637.3" y2="770.7" stroke="#FD3E3E" stroke-width="12" stroke-linecap="round"/>
<circle cx="1553.8" cy="770.7" r="17.6" fill="#FD3E3E"/>
<text class="lg" transform="translate(1657,795.7) scale(1,1.03)">0.01/s</text>
<line x1="1471" y1="862.6" x2="1637.3" y2="862.6" stroke="#006BE0" stroke-width="12" stroke-linecap="round"/>
<polygon points="1553.8,839.2 1574,874.2 1533.6,874.2" fill="#006BE0" stroke="#006BE0" stroke-width="2.6" stroke-linejoin="round"/>
<text class="lg" transform="translate(1657,887.6) scale(1,1.03)">1/s</text>
<line x1="1471" y1="954.4" x2="1637.3" y2="954.4" stroke="#00AD66" stroke-width="12" stroke-linecap="round"/>
<polygon points="1553.8,977.7 1574,942.7 1533.6,942.7" fill="#00AD66" stroke="#00AD66" stroke-width="2.6" stroke-linejoin="round"/>
<text class="lg" transform="translate(1657,979.4) scale(1,1.03)">10/s</text>
<line x1="1471" y1="1046.2" x2="1637.3" y2="1046.2" stroke="#C079E2" stroke-width="12" stroke-linecap="round"/>
<polygon points="1553.8,1025.5 1574.5,1046.2 1553.8,1066.9 1533.1,1046.2" fill="#C079E2" stroke="#C079E2" stroke-width="2.6" stroke-linejoin="round"/>
<text class="lg" transform="translate(1657,1071.2) scale(1,1.03)">100/s</text>
<line x1="1471" y1="1138" x2="1637.3" y2="1138" stroke="#DE9A03" stroke-width="12" stroke-linecap="round"/>
<polygon points="1530.5,1138 1565.5,1117.9 1565.5,1158.2" fill="#DE9A03" stroke="#DE9A03" stroke-width="2.6" stroke-linejoin="round"/>
<text class="lg" transform="translate(1657,1163) scale(1,1.03)">200/s</text>
<line x1="1471" y1="1229.9" x2="1637.3" y2="1229.9" stroke="#00C9CC" stroke-width="12" stroke-linecap="round"/>
<polygon points="1577.1,1229.9 1542.1,1209.7 1542.1,1250.1" fill="#00C9CC" stroke="#00C9CC" stroke-width="2.6" stroke-linejoin="round"/>
<text class="lg" transform="translate(1657,1254.9) scale(1,1.03)">400/s</text></g>
</svg></body></html>
